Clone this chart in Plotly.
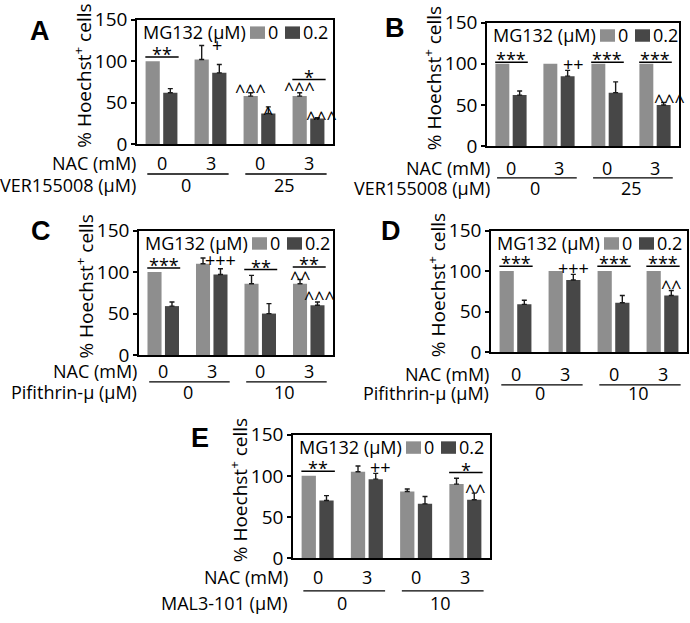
import plotly.graph_objects as go

W, H = 690, 623
FONT = "Open Sans"
FS = 18
LIGHT = "#8e8e8e"
DARK = "#474747"

# ---------------- data ----------------
groups = [0, 1, 2, 3]
nac_labels = ["0", "3", "0", "3"]
nac_title = "NAC (mM)"
legend_title = "MG132 (μM)"
legend_levels = ["0", "0.2"]
y_ticks = [0, 50, 100, 150]
y_title = "% Hoechst<sup>+</sup> cells"

# Panel A
A_ctrl = [100, 102, 58, 58]
A_ctrl_err = [None, 17, 4, 4]
A_mg = [62, 86, 37, 31]
A_mg_err = [5, 10, 8, 1]
A_inhib = "VER155008 (μM)"
A_doses = ["0", "25"]
A_brackets = [(0, "**", 105), (3, "*", 78)]
A_marks = [(1, "mg", "+", 119, -2), (2, "ctrl", "^^^", 69, 0), (2, "mg", "^", 43, 0),
           (3, "ctrl", "^^^", 71, 0), (3, "mg", "^^^", 37, 4)]

# Panel B
B_ctrl = [100, 100, 100, 100]
B_ctrl_err = [None, None, None, None]
B_mg = [62, 85, 65, 50]
B_mg_err = [5, 7, 13, 3]
B_inhib = "VER155008 (μM)"
B_doses = ["0", "25"]
B_brackets = [(0, "***", 102), (2, "***", 102), (3, "***", 102)]
B_marks = [(1, "mg", "++", 100, 6), (3, "mg", "^^^", 60, 6)]

# Panel C
C_ctrl = [100, 110, 86, 86]
C_ctrl_err = [None, 7, 10, 5]
C_mg = [59, 97, 50, 60]
C_mg_err = [5, 7, 12, 4]
C_inhib = "Pifithrin-μ (μM)"
C_doses = ["0", "10"]
C_brackets = [(0, "***", 105), (2, "**", 103), (3, "**", 106)]
C_marks = [(1, "mg", "+++", 115, 0), (3, "ctrl", "^^", 98, 0), (3, "mg", "^^^", 73, 2)]

# Panel D
D_ctrl = [100, 100, 100, 100]
D_ctrl_err = [None, None, None, None]
D_mg = [59, 89, 61, 70]
D_mg_err = [5, 7, 9, 6]
D_inhib = "Pifithrin-μ (μM)"
D_doses = ["0", "10"]
D_brackets = [(0, "***", 106), (2, "***", 106), (3, "***", 106)]
D_marks = [(1, "mg", "+++", 104, 0), (3, "mg", "^^", 85, 0)]

# Panel E
E_ctrl = [100, 105, 81, 90]
E_ctrl_err = [None, 7, 3, 7]
E_mg = [70, 96, 66, 71]
E_mg_err = [6, 7, 9, 8]
E_inhib = "MAL3-101 (μM)"
E_doses = ["0", "10"]
E_brackets = [(0, "**", 105.5), (3, "*", 104)]
E_marks = [(1, "mg", "++", 111, 5), (3, "mg", "^^", 86, 1)]

# ---------------- layout (pixels) ----------------
panels = [
    dict(key="A", box=(137, 7, 333, 137), letter=(40, 19), rows=(20, 31, 43), lab_dx=1,
         ctrl=A_ctrl, ctrl_err=A_ctrl_err, mg=A_mg, mg_err=A_mg_err, inhib=A_inhib,
         doses=A_doses, brackets=A_brackets, marks=A_marks),
    dict(key="B", box=(487, 10, 679, 139), letter=(395, 16), rows=(23, 33, 44), lab_dx=5,
         ctrl=B_ctrl, ctrl_err=B_ctrl_err, mg=B_mg, mg_err=B_mg_err, inhib=B_inhib,
         doses=B_doses, brackets=B_brackets, marks=B_marks),
    dict(key="C", box=(139, 227, 333, 357), letter=(41, 228), rows=(17, 28, 39), lab_dx=0,
         ctrl=C_ctrl, ctrl_err=C_ctrl_err, mg=C_mg, mg_err=C_mg_err, inhib=C_inhib,
         doses=C_doses, brackets=C_brackets, marks=C_marks),
    dict(key="D", box=(491, 227, 687, 354), letter=(391, 228), rows=(23, 34, 43), lab_dx=0,
         ctrl=D_ctrl, ctrl_err=D_ctrl_err, mg=D_mg, mg_err=D_mg_err, inhib=D_inhib,
         doses=D_doses, brackets=D_brackets, marks=D_marks),
    dict(key="E", box=(293, 440, 490, 569), letter=(200, 443), rows=(20, 34, 47), lab_dx=-3,
         ctrl=E_ctrl, ctrl_err=E_ctrl_err, mg=E_mg, mg_err=E_mg_err, inhib=E_inhib,
         doses=E_doses, brackets=E_brackets, marks=E_marks),
]

BAR_W = 0.29
OFF = 0.18  # bar centre offset from group centre


def px(x):
    return x / W


def py(y):
    return 1 - y / H


def txtfont(size=FS):
    return dict(family=FONT, size=size, color="black")


fig = go.Figure()
annotations = []
shapes = []
layout = {}

for i, p in enumerate(panels):
    s = "" if i == 0 else str(i + 1)
    xr, yr = "x" + s, "y" + s
    x0, y0, x1, y1 = p["box"]

    layout["xaxis" + s] = dict(domain=[px(x0), px(x1)], range=[-0.5, 3.5], showticklabels=False,
                               ticks="", showline=True, mirror=True, linecolor="black",
                               linewidth=1.5, showgrid=False, zeroline=False, anchor=yr,
                               fixedrange=True)
    layout["yaxis" + s] = dict(domain=[py(y1), py(y0)], range=[0, 150], tickvals=y_ticks,
                               ticks="outside", ticklen=4, tickwidth=1.5, tickcolor="black",
                               showline=True, mirror=True, linecolor="black", linewidth=1.5,
                               showgrid=False, zeroline=False, anchor=xr, fixedrange=True,
                               tickfont=txtfont(19))

    for vals, errs, color, off in ((p["ctrl"], p["ctrl_err"], LIGHT, -OFF - BAR_W / 2),
                                   (p["mg"], p["mg_err"], DARK, OFF - BAR_W / 2)):
        with_err = [k for k in groups if errs[k] is not None]
        no_err = [k for k in groups if errs[k] is None]
        if no_err:
            fig.add_trace(go.Bar(
                x=no_err, y=[vals[k] for k in no_err], width=BAR_W, offset=off,
                marker=dict(color=color, line=dict(width=0)),
                xaxis=xr, yaxis=yr, showlegend=False, hoverinfo="skip"))
        if with_err:
            fig.add_trace(go.Bar(
                x=with_err, y=[vals[k] for k in with_err], width=BAR_W, offset=off,
                marker=dict(color=color, line=dict(width=0)),
                error_y=dict(type="data", array=[errs[k] for k in with_err],
                             arrayminus=[0] * len(with_err), symmetric=False,
                             thickness=1.4, width=2.5, color="#1a1a1a"),
                xaxis=xr, yaxis=yr, showlegend=False, hoverinfo="skip"))

    # significance brackets
    for g, txt, yv in p["brackets"]:
        shapes.append(dict(type="line", xref=xr, yref=yr, x0=g - 0.33, x1=g + 0.35, y0=yv, y1=yv,
                           line=dict(color="black", width=1.5)))
        annotations.append(dict(xref=xr, yref=yr, x=g + 0.01, y=yv, text=txt, showarrow=False,
                                yanchor="middle", yshift=3, font=txtfont()))
    # marks above bars
    for g, which, txt, yv, dx in p["marks"]:
        xc = g - OFF if which == "ctrl" else g + OFF
        shift = 0 if "+" in txt else -4
        annotations.append(dict(xref=xr, yref=yr, x=xc, y=yv, text=txt, showarrow=False,
                                yanchor="middle", yshift=shift, xshift=dx, font=txtfont()))

    # in-plot legend
    top = y0
    annotations.append(dict(xref="paper", yref="paper", x=px(x0 + 4), y=py(top + 13),
                            text=legend_title, showarrow=False, xanchor="left", yanchor="middle",
                            font=txtfont()))
    shapes.append(dict(type="rect", xref="paper", yref="paper", x0=px(x0 + 113), x1=px(x0 + 128),
                       y0=py(top + 20), y1=py(top + 7), fillcolor=LIGHT, line=dict(width=0)))
    annotations.append(dict(xref="paper", yref="paper", x=px(x0 + 136), y=py(top + 13),
                            text=legend_levels[0], showarrow=False, xanchor="center",
                            yanchor="middle", font=txtfont()))
    shapes.append(dict(type="rect", xref="paper", yref="paper", x0=px(x0 + 148), x1=px(x0 + 163),
                       y0=py(top + 20), y1=py(top + 7), fillcolor=DARK, line=dict(width=0)))
    annotations.append(dict(xref="paper", yref="paper", x=px(x0 + 164), y=py(top + 13),
                            text=legend_levels[1], showarrow=False, xanchor="left",
                            yanchor="middle", font=txtfont()))

    # y title
    annotations.append(dict(xref="paper", yref="paper", x=px(x0 - 54),
                            y=py((y0 + y1) / 2 - 6.5), text=y_title, textangle=-90,
                            showarrow=False, xanchor="center", yanchor="middle",
                            font=txtfont(19)))

    # panel letter
    lx, ly = p["letter"]
    annotations.append(dict(xref="paper", yref="paper", x=px(lx), y=py(ly), text="<b>%s</b>" % p["key"],
                            showarrow=False, xanchor="center", yanchor="middle",
                            font=dict(family="Liberation Sans", size=27, color="black")))

    # x labels
    r1, rl, r2 = p["rows"]
    annotations.append(dict(xref="paper", yref="paper", x=px(x0 + p["lab_dx"]), y=py(y1 + r1),
                            text=nac_title, showarrow=False, xanchor="right", yanchor="middle",
                            font=txtfont()))
    annotations.append(dict(xref="paper", yref="paper", x=px(x0 + p["lab_dx"]), y=py(y1 + r2),
                            text=p["inhib"], showarrow=False, xanchor="right", yanchor="middle",
                            font=txtfont()))
    for g, t in zip(groups, nac_labels):
        annotations.append(dict(xref=xr, yref="paper", x=g, y=py(y1 + r1), text=t,
                                showarrow=False, xanchor="center", yanchor="middle",
                                font=txtfont()))
    for k, t in enumerate(p["doses"]):
        gl = 2 * k
        shapes.append(dict(type="line", xref=xr, yref="paper", x0=gl - 0.29, x1=gl + 1.37,
                           y0=py(y1 + rl), y1=py(y1 + rl), line=dict(color="black", width=1.3)))
        annotations.append(dict(xref=xr, yref="paper", x=gl + 0.5, y=py(y1 + r2), text=t,
                                showarrow=False, xanchor="center", yanchor="middle",
                                font=txtfont()))

fig.update_layout(
    width=W, height=H, autosize=False, margin=dict(l=0, r=0, t=0, b=0),
    paper_bgcolor="white", plot_bgcolor="white", barmode="overlay",
    font=dict(family=FONT, size=FS, color="black"),
    annotations=annotations, shapes=shapes, **layout)

fig.write_html("out.html", config={"displayModeBar": False},
               post_script="document.body.style.margin='0';")
